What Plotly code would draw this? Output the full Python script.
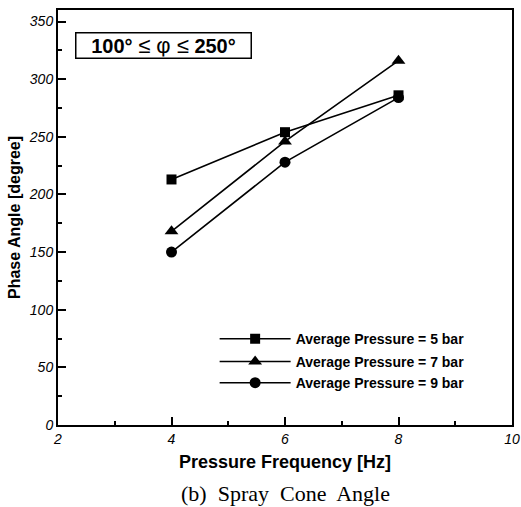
import plotly.graph_objects as go

freq = [4, 6, 8]
p5 = [213, 254, 286]
p7 = [168, 246, 316]
p9 = [150, 228, 284]
names = ["Average Pressure = 5 bar", "Average Pressure = 7 bar", "Average Pressure = 9 bar"]
symbols = ["square", "triangle-up", "circle"]
sizes = [10, 12, 11]
legends = ["legend", "legend2", "legend3"]

fnt = "Liberation Sans, Arial, sans-serif"

fig = go.Figure()
for ys, nm, sym, sz, lg in zip([p5, p7, p9], names, symbols, sizes, legends):
    fig.add_trace(go.Scatter(
        x=freq, y=ys, name=nm, mode="lines+markers",
        line=dict(color="black", width=1.6),
        marker=dict(symbol=sym, size=sz, color="black"),
        legend=lg,
    ))

axis_common = dict(
    showline=True, linecolor="black", linewidth=2, mirror=True,
    ticks="inside", ticklen=8, tickwidth=1.5, tickcolor="black",
    showgrid=False, zeroline=False, automargin=False,
    tickfont=dict(family=fnt, size=14, color="black", style="italic"),
)
fig.update_xaxes(range=[2, 10], dtick=2, tick0=2, ticklabelstandoff=0,
                 minor=dict(dtick=1, ticks="inside", ticklen=4, tickcolor="black"),
                 title=dict(text="Pressure Frequency [Hz]",
                            font=dict(family=fnt, size=18, color="black", weight="bold"),
                            standoff=10),
                 **axis_common)
fig.update_yaxes(range=[0, 360], dtick=50, tick0=0, ticklabelstandoff=0,
                 minor=dict(dtick=25, ticks="inside", ticklen=4, tickcolor="black"),
                 title=dict(text="Phase Angle [degree]",
                            font=dict(family=fnt, size=16, color="black", weight="bold"),
                            standoff=4),
                 **axis_common)

fig.add_annotation(
    x=0.037, y=0.915, xref="paper", yref="paper", xanchor="left", yanchor="middle",
    text="<b>100°</b> <span style='font-size:22px'>≤ φ ≤</span> <b>250°</b>", showarrow=False,
    font=dict(family=fnt, size=20, color="black"),
    width=172, height=22, align="center",
    bordercolor="black", borderwidth=1.5, borderpad=1, bgcolor="white",
)
fig.add_annotation(
    x=0.5, y=-0.166, xref="paper", yref="paper", xanchor="center", yanchor="middle",
    text="(b)  Spray  Cone  Angle", showarrow=False,
    font=dict(family="Liberation Serif, Times New Roman, serif", size=22, color="black"),
)

leg_font = dict(family=fnt, size=14, color="black", weight="bold")
leg_common = dict(x=0.345, xanchor="left", yanchor="middle",
                  bgcolor="rgba(0,0,0,0)", itemwidth=71, font=leg_font)
fig.update_layout(
    width=521, height=507,
    margin=dict(l=58, r=9, t=10, b=82),
    paper_bgcolor="white", plot_bgcolor="white",
    showlegend=True,
    legend=dict(y=0.207, **leg_common),
    legend2=dict(y=0.152, **leg_common),
    legend3=dict(y=0.101, **leg_common),
)
fig.write_html("out.html", config={"displayModeBar": False},
               post_script="document.body.style.margin='0';document.body.style.overflow='hidden';")
